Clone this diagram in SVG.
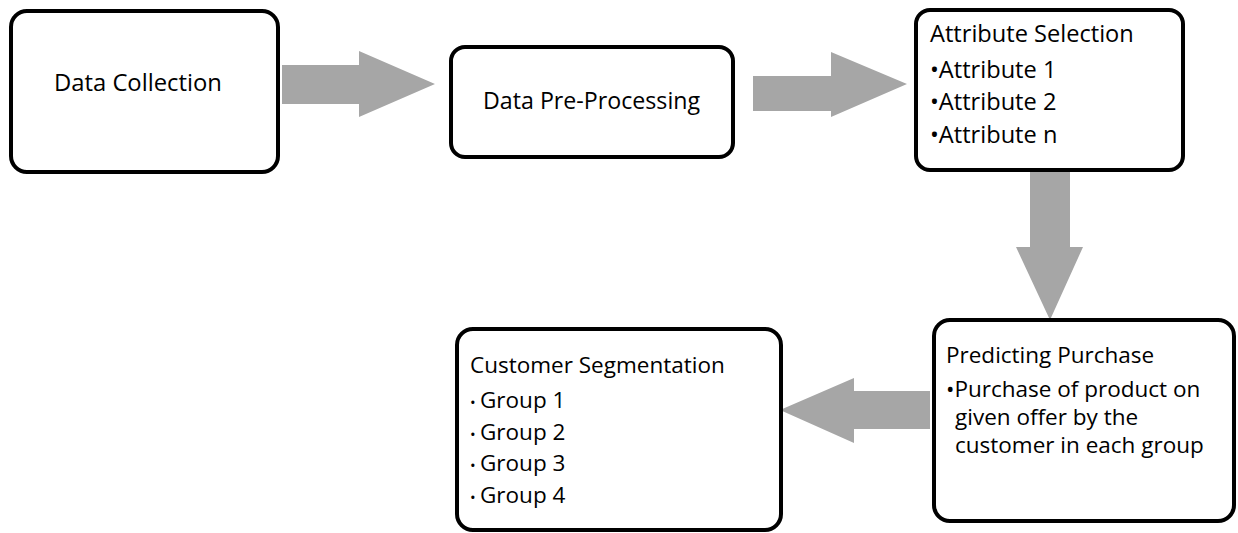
<svg xmlns="http://www.w3.org/2000/svg" width="1238" height="533" viewBox="0 0 1238 533">
<style>
.box{fill:#fff;stroke:#000;stroke-width:4}
.t{font-family:"Open Sans","Noto Sans",sans-serif;font-size:22.5px;fill:#000}
.arr{fill:#a6a6a6}
</style>
<rect width="1238" height="533" fill="#fff"/>
<g id="connectors">
<polygon class="arr" points="282,65 359,65 359,51 435,84 359,117 359,104 282,104"/>
<polygon class="arr" points="753,76 831,76 831,52 907,84 831,117 831,111 753,111"/>
<polygon class="arr" points="1030,172 1070,172 1070,247 1083,247 1050,320 1016,247 1030,247"/>
<polygon class="arr" points="930,391 854,391 854,378 780,410 854,443 854,429 930,429"/>
</g>
<g id="n1">
<rect class="box" x="11" y="11" width="267" height="161" rx="16"/>
<text class="t" x="54" y="91" style="font-size:23.8px">Data Collection</text>
</g>
<g id="n2">
<rect class="box" x="451" y="47" width="282" height="110" rx="14"/>
<text class="t" x="483" y="109" style="font-size:23.2px">Data Pre-Processing</text>
</g>
<g id="n3">
<rect class="box" x="916" y="10" width="267" height="160" rx="14"/>
<text class="t" x="930" y="42" style="font-size:23.6px">Attribute Selection</text>
<text class="t" x="930" y="78" style="font-size:23.6px">•Attribute 1</text>
<text class="t" x="930" y="110" style="font-size:23.6px">•Attribute 2</text>
<text class="t" x="930" y="143" style="font-size:23.6px">•Attribute n</text>
</g>
<g id="n4">
<rect class="box" x="934" y="320" width="300" height="201" rx="16"/>
<text class="t" x="946" y="363">Predicting Purchase</text>
<text class="t" x="946" y="397">•Purchase of product on</text>
<text class="t" x="955" y="425">given offer by the</text>
<text class="t" x="955" y="453">customer in each group</text>
</g>
<g id="n5">
<rect class="box" x="457" y="329" width="324" height="201" rx="16"/>
<text class="t" x="470" y="373">Customer Segmentation</text>
<text class="t" x="470" y="408"><tspan font-size="15">•</tspan><tspan x="480">Group 1</tspan></text>
<text class="t" x="470" y="440"><tspan font-size="15">•</tspan><tspan x="480">Group 2</tspan></text>
<text class="t" x="470" y="471"><tspan font-size="15">•</tspan><tspan x="480">Group 3</tspan></text>
<text class="t" x="470" y="503"><tspan font-size="15">•</tspan><tspan x="480">Group 4</tspan></text>
</g>
</svg>
